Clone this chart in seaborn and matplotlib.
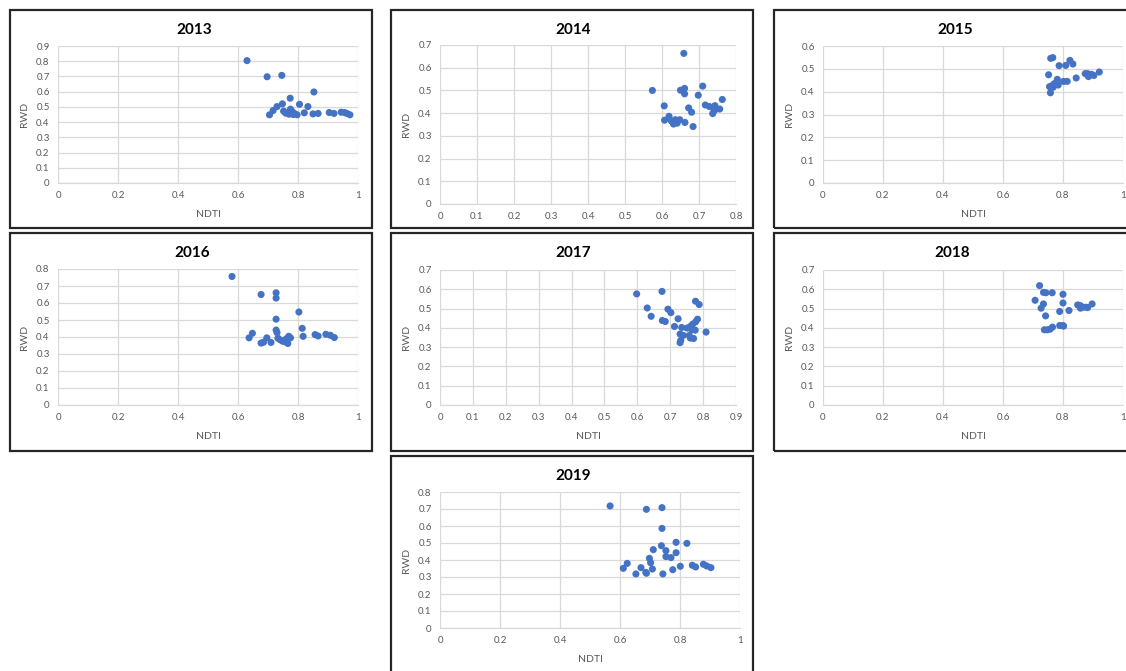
import matplotlib
matplotlib.use("Agg")
import matplotlib.pyplot as plt
import seaborn as sns
import numpy as np
import pandas as pd
from matplotlib.patches import Rectangle

sns.set_theme(style="white")
plt.rcParams['font.family'] = ['Lato', 'DejaVu Sans']

# ---------------- data ----------------
years = ["2013", "2014", "2015", "2016", "2017", "2018", "2019"]

ndti_2013 = [0.630, 0.697, 0.746, 0.853, 0.774, 0.705, 0.717, 0.730, 0.748, 0.752, 0.759,
             0.765, 0.775, 0.780, 0.788, 0.797, 0.805, 0.821, 0.833, 0.850, 0.867, 0.904,
             0.920, 0.944, 0.955, 0.963, 0.973, 0.770, 0.784]
rwd_2013 = [0.804, 0.698, 0.707, 0.598, 0.557, 0.448, 0.476, 0.502, 0.520, 0.472, 0.459,
            0.462, 0.485, 0.470, 0.457, 0.448, 0.517, 0.461, 0.502, 0.454, 0.457, 0.463,
            0.457, 0.465, 0.463, 0.457, 0.448, 0.452, 0.450]

ndti_2014 = [0.659, 0.574, 0.650, 0.661, 0.661, 0.710, 0.698, 0.606, 0.672, 0.680, 0.717,
             0.728, 0.743, 0.763, 0.756, 0.746, 0.737, 0.741, 0.607, 0.619, 0.625, 0.631,
             0.636, 0.641, 0.648, 0.662, 0.684, 0.630]
rwd_2014 = [0.663, 0.500, 0.501, 0.509, 0.485, 0.519, 0.479, 0.432, 0.423, 0.404, 0.436,
            0.429, 0.433, 0.460, 0.418, 0.418, 0.398, 0.411, 0.369, 0.386, 0.366, 0.352,
            0.371, 0.356, 0.371, 0.359, 0.341, 0.362]

ndti_2015 = [0.759, 0.766, 0.787, 0.809, 0.823, 0.833, 0.752, 0.781, 0.755, 0.763, 0.771,
             0.776, 0.784, 0.758, 0.802, 0.814, 0.844, 0.874, 0.882, 0.888, 0.885, 0.895,
             0.903, 0.921, 0.767]
rwd_2015 = [0.546, 0.549, 0.514, 0.515, 0.537, 0.521, 0.474, 0.454, 0.422, 0.426, 0.435,
            0.436, 0.429, 0.395, 0.445, 0.445, 0.460, 0.479, 0.479, 0.474, 0.466, 0.476,
            0.471, 0.486, 0.419]

ndti_2016 = [0.580, 0.677, 0.727, 0.727, 0.803, 0.727, 0.814, 0.727, 0.730, 0.648, 0.637,
             0.677, 0.685, 0.696, 0.710, 0.733, 0.741, 0.749, 0.758, 0.766, 0.769, 0.775,
             0.817, 0.857, 0.867, 0.893, 0.908, 0.921, 0.761]
rwd_2016 = [0.756, 0.650, 0.660, 0.629, 0.547, 0.505, 0.451, 0.441, 0.426, 0.422, 0.395,
            0.364, 0.369, 0.395, 0.368, 0.393, 0.383, 0.375, 0.371, 0.362, 0.404, 0.395,
            0.404, 0.414, 0.406, 0.416, 0.410, 0.397, 0.389]

ndti_2017 = [0.598, 0.675, 0.630, 0.642, 0.693, 0.702, 0.676, 0.685, 0.724, 0.713, 0.777,
             0.788, 0.783, 0.777, 0.768, 0.761, 0.751, 0.735, 0.776, 0.809, 0.730, 0.740,
             0.758, 0.761, 0.771, 0.732, 0.730, 0.766]
rwd_2017 = [0.576, 0.589, 0.503, 0.460, 0.497, 0.479, 0.438, 0.433, 0.447, 0.407, 0.538,
            0.521, 0.445, 0.431, 0.419, 0.407, 0.399, 0.402, 0.388, 0.378, 0.368, 0.361,
            0.361, 0.347, 0.345, 0.335, 0.323, 0.390]

ndti_2018 = [0.722, 0.735, 0.743, 0.764, 0.800, 0.707, 0.735, 0.727, 0.800, 0.742, 0.789,
             0.820, 0.849, 0.858, 0.866, 0.877, 0.882, 0.897, 0.858, 0.738, 0.748, 0.757,
             0.765, 0.789, 0.800, 0.802]
rwd_2018 = [0.619, 0.584, 0.582, 0.582, 0.574, 0.543, 0.524, 0.502, 0.529, 0.462, 0.485,
            0.490, 0.519, 0.515, 0.507, 0.507, 0.505, 0.524, 0.502, 0.390, 0.390, 0.393,
            0.404, 0.412, 0.412, 0.409]

ndti_2019 = [0.567, 0.688, 0.740, 0.740, 0.738, 0.711, 0.787, 0.823, 0.753, 0.787, 0.753,
             0.770, 0.698, 0.702, 0.624, 0.611, 0.670, 0.708, 0.653, 0.686, 0.743, 0.776,
             0.801, 0.841, 0.852, 0.878, 0.889, 0.903, 0.688]
rwd_2019 = [0.718, 0.698, 0.708, 0.586, 0.484, 0.461, 0.504, 0.498, 0.455, 0.443, 0.420,
            0.414, 0.410, 0.384, 0.380, 0.351, 0.355, 0.347, 0.318, 0.327, 0.318, 0.343,
            0.363, 0.369, 0.359, 0.375, 0.365, 0.355, 0.322]

x_max = [1.0, 0.8, 1.0, 1.0, 0.9, 1.0, 1.0]
x_step = [0.2, 0.1, 0.2, 0.2, 0.1, 0.2, 0.2]
y_max = [0.9, 0.7, 0.6, 0.8, 0.7, 0.7, 0.8]

series = [(ndti_2013, rwd_2013), (ndti_2014, rwd_2014), (ndti_2015, rwd_2015),
          (ndti_2016, rwd_2016), (ndti_2017, rwd_2017), (ndti_2018, rwd_2018),
          (ndti_2019, rwd_2019)]

# ---------------- layout (pixels) ----------------
W, H = 1126, 671
fig = plt.figure(figsize=(W / 100, H / 100), dpi=100)
fig.patch.set_facecolor("white")

# plot areas: left, right, top, bottom
areas = [(58, 358, 46, 183), (440, 736, 45, 204), (823, 1123, 46, 183),
         (58, 358, 269, 405), (440, 736, 270, 405), (823, 1123, 270, 405),
         (440, 740, 492, 628)]
# panel boxes: left, right, top, bottom
boxes = [(10, 372, 10, 228), (391, 753, 10, 228), (774, 1140, 10, 228),
         (10, 372, 233, 451), (391, 753, 233, 451), (774, 1140, 233, 451),
         (391, 753, 456, 690)]
title_pos = [(194, 30), (573, 30), (955, 30), (192, 253), (573, 253), (952, 253), (573, 476)]
show_xlabel = [True, False, True, True, True, True, True]

for (l, r, t, b) in boxes:
    fig.patches.append(Rectangle((l / W, 1 - b / H), (r - l) / W, (b - t) / H,
                                 transform=fig.transFigure, fill=False,
                                 edgecolor="#262626", linewidth=1.6, zorder=0))

for i, yr in enumerate(years):
    l, r, t, b = areas[i]
    ax = fig.add_axes([l / W, 1 - b / H, (r - l) / W, (b - t) / H])
    xs, ys = series[i]
    df = pd.DataFrame({"NDTI": xs, "RWD": ys})
    sns.scatterplot(data=df, x="NDTI", y="RWD", ax=ax, color="#4472C4",
                    s=26, edgecolor="none", linewidth=0, zorder=3, clip_on=False)
    ax.set_xlim(0, x_max[i])
    ax.set_ylim(0, y_max[i])
    xt = np.round(np.arange(0, x_max[i] + 1e-9, x_step[i]), 1)
    yt = np.round(np.arange(0, y_max[i] + 1e-9, 0.1), 1)
    ax.set_xticks(xt)
    ax.set_yticks(yt)
    ax.set_xticklabels([("%g" % v) for v in xt])
    ax.set_yticklabels([("%g" % v) for v in yt])
    ax.grid(True, color="#D9D9D9", linewidth=0.9)
    ax.set_axisbelow(True)
    for s in ["top", "right", "left"]:
        ax.spines[s].set_visible(False)
    ax.spines["bottom"].set_color("#D9D9D9")
    ax.spines["bottom"].set_linewidth(0.9)
    ax.tick_params(length=0, labelsize=7, labelcolor="#595959", pad=6)
    ax.set_ylabel("RWD", fontsize=7.5, color="#595959")
    ax.yaxis.set_label_coords(-29 / (r - l), 0.5)
    if show_xlabel[i]:
        ax.set_xlabel("NDTI", fontsize=7.5, color="#595959")
        ax.xaxis.set_label_coords(0.5, -27 / (b - t))
    else:
        ax.set_xlabel("")
    tx, ty = title_pos[i]
    fig.text(tx / W, 1 - ty / H, yr, ha="center", va="center",
             fontsize=11, fontweight="bold", color="black")

fig.savefig("out.png", dpi=100, facecolor="white")
